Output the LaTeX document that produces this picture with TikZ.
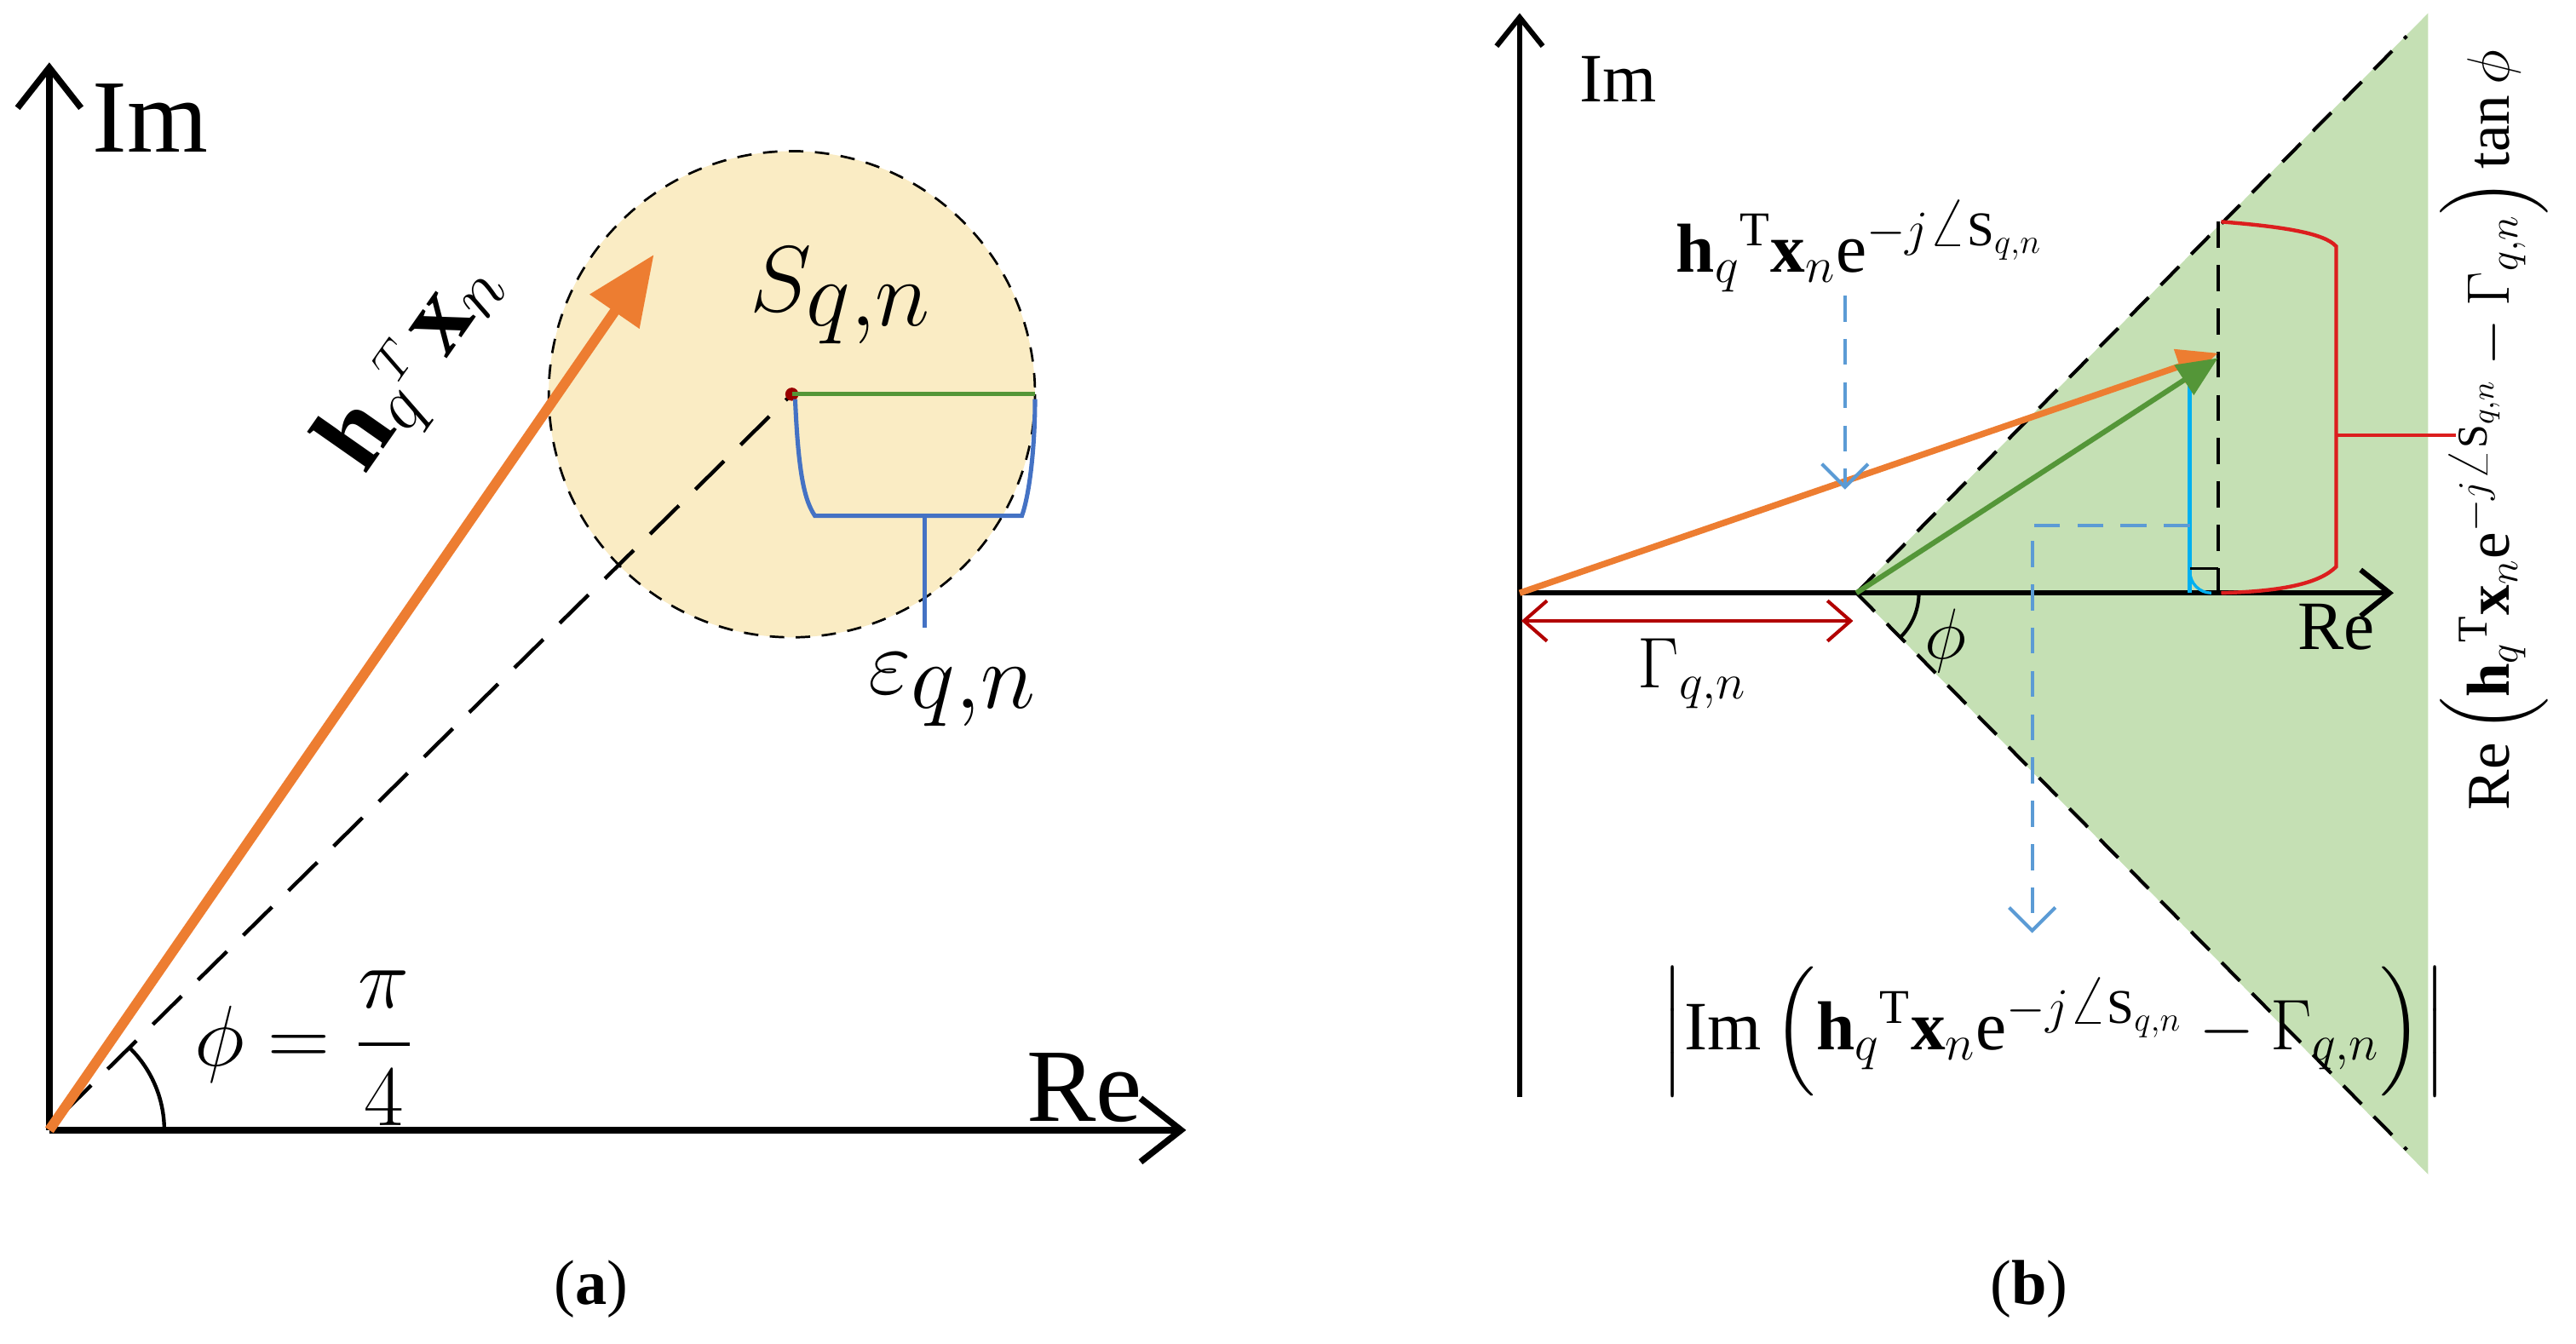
\documentclass[tikz,border=0pt]{standalone}
\usepackage{amsmath}
\usepackage{fontspec}
\setmainfont{Liberation Serif}
\usetikzlibrary{arrows.meta}
\definecolor{org}{RGB}{237,125,49}
\definecolor{grn}{RGB}{84,150,56}
\definecolor{blu}{RGB}{68,114,196}
\definecolor{cyn}{RGB}{0,176,240}
\definecolor{lblu}{RGB}{91,155,213}
\definecolor{red1}{RGB}{220,30,30}
\definecolor{yel}{RGB}{250,236,196}
\definecolor{gfill}{RGB}{197,224,180}
\begin{document}
\begin{tikzpicture}[x=0.02cm,y=-0.02cm,
  axis/.style={line width=2.2pt,-{Straight Barb[length=14pt,width=22pt,line width=2.2pt]}},
  axisb/.style={line width=1.8pt,-{Straight Barb[length=10pt,width=16pt,line width=1.8pt]}},
  dsh/.style={line width=1.2pt,dash pattern=on 9pt off 6pt},
  big/.style={font=\fontsize{36}{40}\selectfont},
  mid/.style={font=\fontsize{24}{28}\selectfont},
  captxt/.style={font=\fontsize{22}{26}\selectfont}]
\useasboundingbox (0,0) rectangle (1568,818);
% ---------- (a)
\coordinate (O) at (30,688);
\fill[yel] (482,240) circle (148);
\draw[line width=0.8pt,dash pattern=on 5pt off 4pt] (482,240) circle (148);
\coordinate (S) at (482,240);
\draw[axis] (O) -- (30,38) coordinate (ytop);
\draw[axis] (O) -- (722,688) coordinate (xr);
\node[big,anchor=west] (im1) at (50,72) {Im};
\node[big] (re1) at (660,662) {Re};
\draw[line width=1.3pt,dash pattern=on 14pt off 8pt] (38,678) -- (S);
\draw[org,line width=3.5pt,-{Triangle[length=24pt,width=20pt]}] (O) -- (398,155);
\node[big,rotate=55] (hx) at (252,222) {$\mathbf{h}_q{}^{\scriptscriptstyle T}\,\mathbf{x}_n$};
\fill[red!60!black] (S) circle (4);
\draw[grn,line width=1.5pt] (S) -- (630,240);
\draw[blu,line width=1.5pt] (484,243) .. controls (486,290) and (490,305) .. (496,314) -- (622,314) .. controls (627,300) and (630,270) .. (630,243);
\draw[blu,line width=1.5pt] (563,314) -- (563,382);
\node[big,scale=1.3] (eps) at (580,420) {$\varepsilon_{q,n}$};
\node[big,scale=1.3] (sq) at (512,180) {$S_{q,n}$};
\draw[line width=1.3pt] (100,688) arc[start angle=0,end angle=-45,radius=70];
\node[big,scale=1.2] (phi) at (185,638) {$\phi=\dfrac{\pi}{4}$};
\node[captxt] (ca) at (360,785) {(\textbf{a})};
% ---------- (b)
\coordinate (V) at (1130,361);
\fill[gfill] (V) -- (1478,8) -- (1478,715) -- cycle;
\draw[dsh] (V) -- (1465,22);
\draw[dsh] (V) -- (1465,700);
\draw[axisb] (925,668) -- (925,8);
\draw[axisb] (925,361) -- (1457,361);
\node[mid] (im2) at (985,48) {Im};
\node[mid] (re2) at (1422,382) {Re};
\draw[dsh] (1350,135) -- (1350,361);
\draw[cyn,line width=1.4pt] (1333,361) -- (1333,222);
\draw[line width=1pt] (1333,346) -- (1350,346);
\draw[cyn,line width=1pt] (1333,348) arc[start angle=180,end angle=90,radius=13];
\draw[org,line width=2.2pt,-{Triangle[length=14pt,width=12pt]}] (925,361) -- (1350,215);
\draw[grn,line width=1.8pt,-{Triangle[length=14pt,width=12pt]}] (V) -- (1350,218);
\draw[red1,line width=1.3pt] (1352,135) .. controls (1390,138) and (1415,142) .. (1422,150) -- (1422,345) .. controls (1412,355) and (1390,360) .. (1352,361);
\draw[red1,line width=1.3pt] (1422,265) -- (1495,265);
\draw[red!70!black,line width=1.2pt,{Straight Barb[length=8pt,width=14pt]}-{Straight Barb[length=8pt,width=14pt]}] (926,378) -- (1128,378);
\node[mid] (gam) at (1030,410) {$\Gamma_{q,n}$};
\draw[line width=1.2pt] (1168,361) arc[start angle=0,end angle=45,radius=38];
\node[mid] (phi2) at (1184,390) {$\phi$};
\draw[lblu,line width=1.2pt,dash pattern=on 9pt off 6pt,-{Straight Barb[length=8pt,width=16pt]}] (1123,180) -- (1123,298);
\node[mid] (lab1) at (1132,150) {$\mathbf{h}_q{}^{\mathrm{T}}\mathbf{x}_n\mathrm{e}^{-j\angle \mathrm{S}_{q,n}}$};
\draw[lblu,line width=1.2pt,dash pattern=on 9pt off 6pt,-{Straight Barb[length=8pt,width=16pt]}] (1333,320) -- (1237,320) -- (1237,568);
\node[mid] (lab2) at (1250,628) {$\left|\mathrm{Im}\left(\mathbf{h}_q{}^{\mathrm{T}}\mathbf{x}_n\mathrm{e}^{-j\angle \mathrm{S}_{q,n}}-\Gamma_{q,n}\right)\right|$};
\node[font=\fontsize{21}{24}\selectfont,rotate=90] (lab3) at (1518,262) {$\mathrm{Re}\left(\mathbf{h}_q{}^{\mathrm{T}}\mathbf{x}_n\mathrm{e}^{-j\angle \mathrm{S}_{q,n}}-\Gamma_{q,n}\right)\tan\phi$};
\node[captxt] (cb) at (1235,785) {(\textbf{b})};
\end{tikzpicture}
\end{document}
